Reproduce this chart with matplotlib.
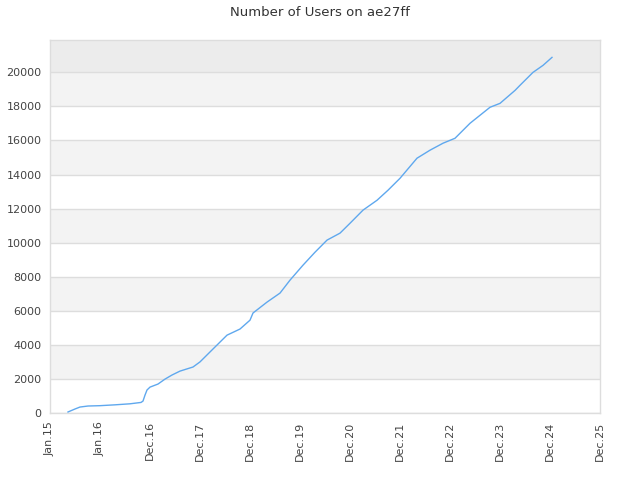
import matplotlib
matplotlib.use("Agg")
import matplotlib.pyplot as plt

# x in axis units: 0 = Jan.15, 1 = Jan.16, 2 = Dec.16, ... 11 = Dec.25
tick_labels = ["Jan.15", "Jan.16", "Dec.16", "Dec.17", "Dec.18", "Dec.19",
               "Dec.20", "Dec.21", "Dec.22", "Dec.23", "Dec.24", "Dec.25"]
x_pos = [0.36, 0.5, 0.6, 0.76, 1.0, 1.3, 1.6, 1.82, 1.86, 1.9, 1.94, 2.0,
         2.16, 2.3, 2.44, 2.6, 2.86, 3.0, 3.24, 3.54, 3.8, 4.0, 4.06, 4.34,
         4.6, 4.8, 5.06, 5.3, 5.54, 5.8, 6.0, 6.26, 6.54, 6.76, 7.0, 7.34,
         7.6, 7.86, 8.1, 8.4, 8.8, 9.0, 9.3, 9.4, 9.66, 9.86, 10.04]
users = [60, 235, 350, 410, 430, 480, 540, 620, 700, 1050, 1350, 1520,
         1700, 1990, 2230, 2460, 2700, 3000, 3700, 4570, 4930, 5450, 5870, 6510,
         7040, 7800, 8680, 9440, 10150, 10560, 11140, 11910, 12490, 13080, 13780, 14960,
         15430, 15840, 16130, 17010, 17950, 18180, 18940, 19240, 20000, 20410, 20880]
y_ticks = list(range(0, 20001, 2000))
y_max = 21900

fig = plt.figure(figsize=(6.4, 4.8), dpi=100)
ax = fig.add_axes([50/640, 1-413/480, 550/640, 373/480])

# alternating bands
for i, lo in enumerate(y_ticks[:-1]):
    if i % 2 == 1:
        ax.axhspan(lo, lo + 2000, color="#f3f3f3", zorder=0, lw=0)
ax.axhspan(20000, y_max, color="#ececec", zorder=0, lw=0)

ax.plot(x_pos, users, color="#5fa8ee", lw=1.0, zorder=3)

ax.set_xlim(0, 11)
ax.set_ylim(0, y_max)
ax.set_xticks(range(len(tick_labels)))
ax.set_xticklabels(tick_labels, rotation=90, fontsize=8, color="#444444")
ax.set_yticks(y_ticks)
ax.set_yticklabels([str(v) for v in y_ticks], fontsize=8, color="#444444")
ax.tick_params(length=0, pad=6)
ax.grid(axis="y", color="#dddddd", lw=1, zorder=1)
ax.set_axisbelow(True)
for s in ax.spines.values():
    s.set_color("#dddddd")
    s.set_linewidth(1)

fig.text(0.5, 1-12/480, "Number of Users on ae27ff", ha="center", va="center",
         fontsize=9.5, color="#333333")

fig.savefig("out.png", dpi=100)
